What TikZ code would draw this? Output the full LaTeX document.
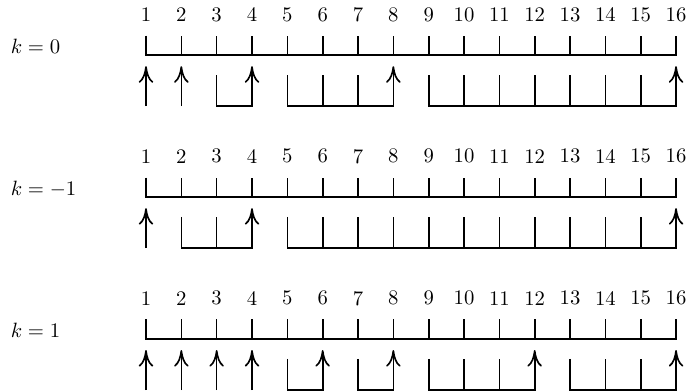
\documentclass[tikz,border=0pt]{standalone}
\usetikzlibrary{arrows.meta}
\begin{document}
\begin{tikzpicture}[line width=0.8pt, >={To[length=8pt,width=7pt]},
    ziffer/.style={inner sep=0pt},
    bez/.style={anchor=west, inner sep=0pt}]
    \useasboundingbox (-2.479,-5.705) rectangle (9.254,0.934);
    \foreach \r/\k/\gl in {0/0/{1/1,2/2,3/4,5/8,9/16},
                           1/-1/{1/1,2/4,5/16},
                           2/1/{1/1,2/2,3/3,4/4,5/6,7/8,9/12,13/16}}{
        \pgfmathsetmacro\yb{-2.41*\r}
        % Beschriftung
        \node[bez] (k\r) at (-2.31,\yb+0.14) {$k=\k$};
        % Skala
        \draw (0,\yb+0.33) -- (0,\yb) -- (9,\yb) -- (9,\yb+0.33);
        \foreach \i in {1,...,16}{
            \node[ziffer] (n\r-\i) at ({0.6*(\i-1)},\yb+0.69) {\i};
        }
        \foreach \i in {2,...,15}{
            \draw ({0.6*(\i-1)},\yb) -- ({0.6*(\i-1)},\yb+0.33);
        }
        % Gruppen
        \foreach \a/\b in \gl {
            \ifnum\a<\b
                \draw[->] ({0.6*(\a-1)},\yb-0.34) -- ({0.6*(\a-1)},\yb-0.87)
                    -- ({0.6*(\b-1)},\yb-0.87) -- ({0.6*(\b-1)},\yb-0.19);
                \pgfmathtruncatemacro\von{\a+1}
                \pgfmathtruncatemacro\bis{\b-1}
                \ifnum\von>\bis\else
                    \foreach \t in {\von,...,\bis}{
                        \draw ({0.6*(\t-1)},\yb-0.87) -- ({0.6*(\t-1)},\yb-0.34);
                    }
                \fi
            \else
                \draw[->] ({0.6*(\b-1)},\yb-0.87) -- ({0.6*(\b-1)},\yb-0.19);
            \fi
        }
    }
\end{tikzpicture}
\end{document}
